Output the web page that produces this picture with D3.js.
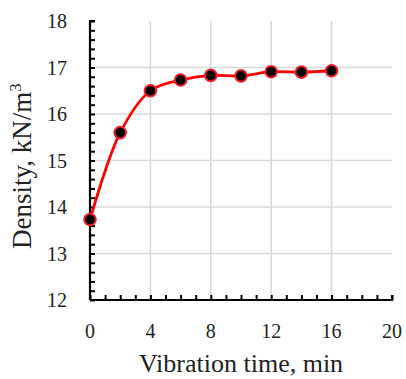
<!DOCTYPE html>
<html><head><meta charset="utf-8">
<script src="https://cdn.jsdelivr.net/npm/d3@7/dist/d3.min.js"></script>
<style>body{margin:0;background:#fff}svg{display:block}text{font-family:"Liberation Serif","Times New Roman",serif;fill:#222}</style>
</head><body><svg id="c" width="406" height="379"></svg>
<script>
const times = [0, 2, 4, 6, 8, 10, 12, 14, 16];
const density = [13.73, 15.6, 16.5, 16.73, 16.83, 16.82, 16.91, 16.9, 16.93];
const xTicks = [0, 4, 8, 12, 16, 20];
const yTicks = [12, 13, 14, 15, 16, 17, 18];
const xLabel = "Vibration time, min";
const yLabel = "Density, kN/m";

const svg = d3.select("#c");
const x = d3.scaleLinear().domain([0, 20]).range([90, 392]);
const y = d3.scaleLinear().domain([12, 18]).range([300, 21]);

// grid
svg.append("g").selectAll("line").data(yTicks.filter(d => d > 12 && d < 18)).join("line")
  .attr("x1", x(0)).attr("x2", x(20)).attr("y1", d => y(d)).attr("y2", d => y(d))
  .attr("stroke", "#d9d9d9").attr("stroke-width", 1.5);
svg.append("g").selectAll("line").data(xTicks.filter(d => d > 0 && d < 20)).join("line")
  .attr("y1", y(12)).attr("y2", y(18)).attr("x1", d => x(d)).attr("x2", d => x(d))
  .attr("stroke", "#d9d9d9").attr("stroke-width", 1.5);

// axes with inward minor ticks
const xAxis = d3.axisTop(x).tickValues(d3.range(0, 20.01, 1)).tickSize(5).tickFormat("");
const gx = svg.append("g").attr("transform", `translate(0,${y(12)})`).call(xAxis);
const yAxis = d3.axisRight(y).tickValues(d3.range(12, 18.001, 0.2)).tickSize(5).tickFormat("");
const gy = svg.append("g").attr("transform", `translate(${x(0)},0)`).call(yAxis);
[gx, gy].forEach(g => {
  g.select(".domain").attr("stroke", "#000").attr("stroke-width", 2.2);
  g.selectAll(".tick line").attr("stroke", "#000").attr("stroke-width", 2);
});
gx.select(".domain").attr("d", `M${x(0)},0H${x(20)}V-5`);
gy.select(".domain").attr("d", `M0,${y(12)}V${y(18)}H5`);

// tick labels
svg.append("g").selectAll("text").data(xTicks).join("text")
  .attr("x", d => x(d)).attr("y", 338).attr("text-anchor", "middle")
  .attr("font-size", 20).text(d => d);
svg.append("g").selectAll("text").data(yTicks).join("text")
  .attr("x", 67).attr("y", d => y(d) + 7).attr("text-anchor", "end")
  .attr("font-size", 20).text(d => d);

// axis titles
svg.append("text").attr("x", 241).attr("y", 372).attr("text-anchor", "middle")
  .attr("font-size", 26).text(xLabel);
const yl = svg.append("text").attr("transform", "translate(31,166) rotate(-90)")
  .attr("text-anchor", "middle").attr("font-size", 27);
yl.append("tspan").text(yLabel);
yl.append("tspan").attr("dy", -10).attr("font-size", 17).text("3");

// line
const pts = times.map((t, i) => [t, density[i]]);
svg.append("path").datum(pts)
  .attr("d", d3.line().x(d => x(d[0])).y(d => y(d[1])).curve(d3.curveCatmullRom.alpha(0.5)))
  .attr("fill", "none").attr("stroke", "#ff0000").attr("stroke-width", 2.8);
svg.append("g").selectAll("circle").data(pts).join("circle")
  .attr("cx", d => x(d[0])).attr("cy", d => y(d[1])).attr("r", 5.8)
  .attr("fill", "#000").attr("stroke", "#e8202a").attr("stroke-width", 2);
</script></body></html>
